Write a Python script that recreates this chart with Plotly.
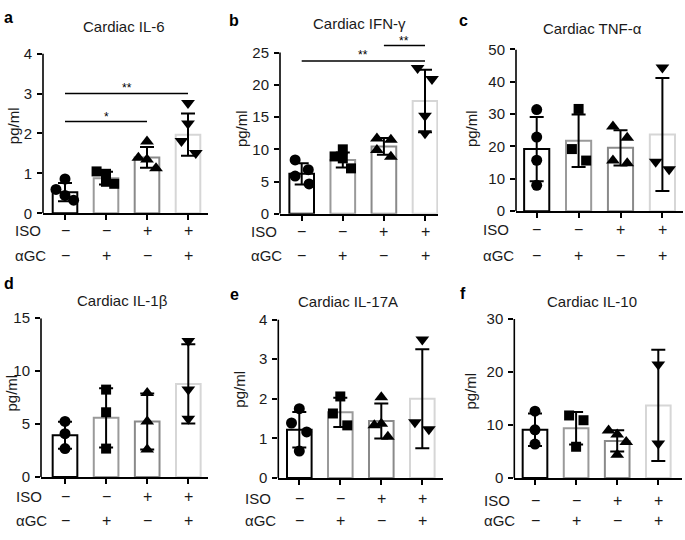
import plotly.graph_objects as go

W, H = 685, 540

# ---------------- data ----------------
GROUPS = [0, 1, 2, 3]
ISO_SIGNS = ["−", "−", "+", "+"]
AGC_SIGNS = ["−", "+", "−", "+"]

IL6_MEAN = [0.53, 0.88, 1.40, 1.97]
IL6_SD = [0.23, 0.16, 0.26, 0.53]
IL6_PTS = [[0.86, 0.60, 0.45, 0.33], [1.05, 0.99, 0.79, 0.74],
           [1.80, 1.39, 1.35, 1.13], [2.76, 2.25, 1.81, 1.51]]

IFNG_MEAN = [6.2, 8.35, 10.45, 17.5]
IFNG_SD = [1.65, 1.15, 1.3, 4.85]
IFNG_PTS = [[8.36, 6.85, 5.85, 4.64], [10.0, 8.9, 8.6, 7.05],
            [11.7, 11.5, 9.9, 8.86], [22.6, 20.9, 15.2, 12.5]]

TNF_MEAN = [19.2, 21.8, 19.6, 23.7]
TNF_SD = [9.95, 8.1, 5.45, 17.45]
TNF_PTS = [[31.4, 22.9, 15.75, 8.0], [31.6, 19.2, 15.65],
           [26.2, 22.7, 15.7, 14.8], [44.4, 15.3, 13.0]]

IL1B_MEAN = [3.95, 5.6, 5.25, 8.8]
IL1B_SD = [1.28, 2.8, 2.65, 3.75]
IL1B_PTS = [[5.26, 4.1, 2.69], [8.26, 6.12, 2.69],
            [7.95, 5.26, 2.6], [12.84, 8.26, 5.5]]

IL17A_MEAN = [1.22, 1.66, 1.44, 2.0]
IL17A_SD = [0.45, 0.37, 0.44, 1.25]
IL17A_PTS = [[1.75, 1.39, 1.165, 0.68], [2.06, 1.63, 1.33],
             [2.04, 1.37, 1.33, 1.04], [3.5, 1.41, 1.23]]

IL10_MEAN = [9.1, 9.4, 7.0, 13.7]
IL10_SD = [3.05, 3.05, 2.0, 10.5]
IL10_PTS = [[12.6, 9.1, 6.4], [11.8, 10.9, 5.9],
            [8.95, 8.2, 6.8, 4.4], [21.4, 6.5]]

# ---------------- layout / style constants ----------------
IL6_JIT = [[0, -0.22, 0, 0.21], [-0.23, 0, 0, 0.2], [0, -0.21, 0, 0.22], [0, 0, -0.16, 0.19]]
IFNG_JIT = [[-0.16, 0.16, -0.16, 0.18], [0, -0.2, 0, 0.2], [-0.17, 0.17, -0.17, 0.17], [-0.18, 0.17, 0, 0]]
TNF_JIT = [[0, 0, 0, 0], [0, -0.16, 0.18], [-0.18, 0.16, -0.18, 0.16], [0, -0.16, 0.16]]
IL1B_JIT = [[0, 0, 0], [0, 0, 0], [0, 0, 0], [0, 0, 0]]
IL17A_JIT = [[0, -0.19, 0.18, 0], [0, -0.18, 0.17], [0, 0, -0.17, 0.16], [0, -0.18, 0.16]]
IL10_JIT = [[0, 0, 0], [-0.17, 0.18, 0], [-0.21, 0, 0.22, 0], [0, 0]]

BAR_EDGE = ["#000000", "#9a9a9a", "#8a8a8a", "#d6d6d6"]
SYMBOLS = ["circle", "square", "triangle-up", "triangle-down"]
SIZES = [11, 10, 12, 12]
FONT = "Liberation Sans, Arial, sans-serif"

# geometry (pixels): plot left/right, y-pixel of 0 and of ymax, first category pixel, spacing
PANELS = [
    dict(letter="a", title="Cardiac IL-6", mean=IL6_MEAN, sd=IL6_SD, pts=IL6_PTS, jit=IL6_JIT,
         ymax=4, dtick=1, ytop=4, L=43, R=208, yb=211, yt=46, c0=65, sp=41,
         letter_px=(2, 9), title_px=(124, 18), ylab_px=(13, 121), iso_y=229, agc_y=255, rowlab_x=13,
         sig=[(0, 3, 3.0, 3.13, "**"), (0, 2, 2.3, 2.42, "*")]),
    dict(letter="b", title="Cardiac IFN-γ", mean=IFNG_MEAN, sd=IFNG_SD, pts=IFNG_PTS, jit=IFNG_JIT,
         ymax=25, dtick=5, ytop=27.5, L=280, R=438, yb=211.5, yt=45, c0=301.7, sp=41.1,
         letter_px=(227, 12), title_px=(359, 15), ylab_px=(241, 124), iso_y=230, agc_y=255, rowlab_x=249,
         sig=[(0, 3, 23.7, 24.6, "**"), (2, 3, 26.1, 26.85, "**")]),
    dict(letter="c", title="Cardiac TNF-α", mean=TNF_MEAN, sd=TNF_SD, pts=TNF_PTS, jit=TNF_JIT,
         ymax=50, dtick=10, ytop=50, L=516, R=683, yb=208.8, yt=41.7, c0=536.7, sp=41.9,
         letter_px=(457, 12), title_px=(592, 20), ylab_px=(471, 124), iso_y=228, agc_y=255, rowlab_x=481,
         sig=[]),
    dict(letter="d", title="Cardiac IL-1β", mean=IL1B_MEAN, sd=IL1B_SD, pts=IL1B_PTS, jit=IL1B_JIT,
         ymax=15, dtick=5, ytop=15, L=41, R=208, yb=483.3, yt=319.3, c0=65, sp=41.1,
         letter_px=(2, 283), title_px=(122, 301), ylab_px=(12, 397), iso_y=503, agc_y=528, rowlab_x=14,
         sig=[]),
    dict(letter="e", title="Cardiac IL-17A", mean=IL17A_MEAN, sd=IL17A_SD, pts=IL17A_PTS, jit=IL17A_JIT,
         ymax=4, dtick=1, ytop=4, L=278.3, R=443, yb=484.3, yt=320.7, c0=299.3, sp=41,
         letter_px=(228, 295), title_px=(348, 302), ylab_px=(240, 393), iso_y=505, agc_y=528, rowlab_x=243,
         sig=[]),
    dict(letter="f", title="Cardiac IL-10", mean=IL10_MEAN, sd=IL10_SD, pts=IL10_PTS, jit=IL10_JIT,
         ymax=30, dtick=10, ytop=30, L=514.3, R=682, yb=484.3, yt=320, c0=535, sp=41.1,
         letter_px=(458, 294), title_px=(592, 302), ylab_px=(471, 395), iso_y=507, agc_y=528, rowlab_x=482,
         sig=[]),
]

fig = go.Figure()
annotations = []
shapes = []
layout_axes = {}


def px_x(x):
    return x / W


def px_y(y):
    return 1 - y / H


for i, p in enumerate(PANELS):
    n = i + 1
    xa = "x" if n == 1 else f"x{n}"
    ya = "y" if n == 1 else f"y{n}"
    xkey = "xaxis" if n == 1 else f"xaxis{n}"
    ykey = "yaxis" if n == 1 else f"yaxis{n}"

    ppu = (p["yb"] - p["yt"]) / p["ymax"]
    ytop_px = p["yb"] - ppu * p["ytop"]
    x_lo = (p["L"] - p["c0"]) / p["sp"]
    x_hi = 3 + (p["R"] - (p["c0"] + 3 * p["sp"])) / p["sp"]

    layout_axes[xkey] = dict(domain=[px_x(p["L"]), px_x(p["R"])], range=[x_lo, x_hi],
                             anchor=ya, showgrid=False, zeroline=False, showline=True,
                             linecolor="black", linewidth=1.6, ticks="outside", ticklen=5,
                             tickwidth=1.5, tickcolor="black", tickvals=GROUPS,
                             showticklabels=False, fixedrange=True)
    layout_axes[ykey] = dict(domain=[px_y(p["yb"]), px_y(ytop_px)], range=[0, p["ytop"]],
                             anchor=xa, showgrid=False, zeroline=False, showline=False,
                             ticks="outside", ticklen=5, tickwidth=1.5, tickcolor="black",
                             tickvals=list(range(0, p["ymax"] + 1, p["dtick"])),
                             tickfont=dict(family=FONT, size=15, color="#1a1a1a"),
                             ticklabelstandoff=2, fixedrange=True)

    # y axis line from 0 to ymax
    shapes.append(dict(type="line", xref=f"{xa} domain", yref=ya, x0=0, x1=0, y0=0, y1=p["ymax"],
                       line=dict(color="black", width=1.6)))

    # bars
    fig.add_trace(go.Bar(x=GROUPS, y=p["mean"], width=0.6, xaxis=xa, yaxis=ya,
                         marker=dict(color="white", line=dict(color=BAR_EDGE, width=2)),
                         error_y=dict(type="data", array=p["sd"], visible=True, color="black",
                                      thickness=2, width=7),
                         showlegend=False, hoverinfo="skip"))
    # points
    for g in GROUPS:
        vals = p["pts"][g]
        xs = [g + j for j in p["jit"][g][:len(vals)]]
        fig.add_trace(go.Scatter(x=xs, y=vals, mode="markers", xaxis=xa, yaxis=ya,
                                 marker=dict(symbol=SYMBOLS[g], size=SIZES[g], color="black",
                                             line=dict(width=0)),
                                 showlegend=False, hoverinfo="skip", cliponaxis=False))
    # significance brackets
    for (a0, a1, yv, ys, txt) in p["sig"]:
        fig.add_trace(go.Scatter(x=[a0, a1], y=[yv, yv], mode="lines", xaxis=xa, yaxis=ya,
                                 line=dict(color="black", width=1.6), showlegend=False,
                                 hoverinfo="skip"))
        annotations.append(dict(x=(a0 + a1) / 2, y=ys, xref=xa, yref=ya, text=txt, showarrow=False,
                                font=dict(family=FONT, size=12, color="black"), yanchor="middle"))

    # texts
    annotations.append(dict(x=px_x(p["letter_px"][0]), y=px_y(p["letter_px"][1]), xref="paper",
                            yref="paper", text=f"<b>{p['letter']}</b>", showarrow=False,
                            xanchor="left", yanchor="middle",
                            font=dict(family=FONT, size=16, color="black")))
    annotations.append(dict(x=px_x(p["title_px"][0]), y=px_y(p["title_px"][1]), xref="paper",
                            yref="paper", text=p["title"], showarrow=False, xanchor="center",
                            yanchor="middle", font=dict(family=FONT, size=15, color="#1a1a1a")))
    annotations.append(dict(x=px_x(p["ylab_px"][0]), y=px_y(p["ylab_px"][1]), xref="paper",
                            yref="paper", text="pg/ml", textangle=-90, showarrow=False,
                            xanchor="center", yanchor="middle",
                            font=dict(family=FONT, size=15, color="#1a1a1a")))
    annotations.append(dict(x=px_x(p["rowlab_x"]), y=px_y(p["iso_y"]), xref="paper", yref="paper",
                            text="ISO", showarrow=False, xanchor="left", yanchor="middle",
                            font=dict(family=FONT, size=15, color="#1a1a1a")))
    annotations.append(dict(x=px_x(p["rowlab_x"]), y=px_y(p["agc_y"]), xref="paper", yref="paper",
                            text="αGC", showarrow=False, xanchor="left", yanchor="middle",
                            font=dict(family=FONT, size=15, color="#1a1a1a")))
    for g in GROUPS:
        annotations.append(dict(x=g, y=px_y(p["iso_y"]), xref=xa, yref="paper", text=ISO_SIGNS[g],
                                showarrow=False, xanchor="center", yanchor="middle",
                                font=dict(family=FONT, size=16, color="#1a1a1a")))
        annotations.append(dict(x=g, y=px_y(p["agc_y"]), xref=xa, yref="paper", text=AGC_SIGNS[g],
                                showarrow=False, xanchor="center", yanchor="middle",
                                font=dict(family=FONT, size=16, color="#1a1a1a")))

fig.update_layout(width=W, height=H, margin=dict(l=0, r=0, t=0, b=0),
                  paper_bgcolor="white", plot_bgcolor="white", showlegend=False,
                  annotations=annotations, shapes=shapes, **layout_axes)

fig.write_html("out.html", config={"displayModeBar": False},
               post_script="document.body.style.margin='0';document.body.style.overflow='hidden';")
